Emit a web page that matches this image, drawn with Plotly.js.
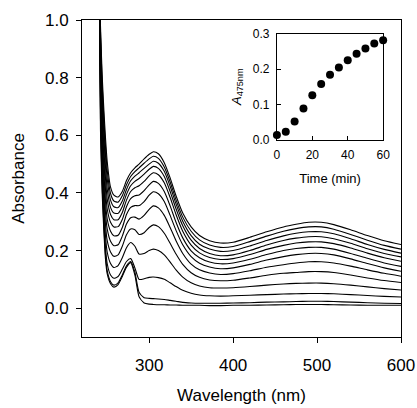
<!DOCTYPE html>
<html>
<head>
<meta charset="utf-8">
<script src="https://cdn.plot.ly/plotly-3.0.1.min.js"></script>
<style>html,body{margin:0;padding:0;background:#fff;}#chart{width:417px;height:408px;}</style>
</head>
<body>
<div id="chart"></div>
<script>
// Wavelength grid (nm) shared by all spectra
const wavelength = [240,242,244,246,248,250,254,258,263,268,273,278,283,288,294,300,305,311,318,325,332,340,350,360,372,385,400,420,440,460,475,490,505,520,540,560,580,600];

// Absorbance spectra recorded every 5 min (t = 0 ... 60 min)
const abs_t0  = [1.3,0.62,0.40,0.27,0.17,0.12,0.085,0.073,0.082,0.11,0.142,0.158,0.115,0.04,0.018,0.014,0.013,0.012,0.012,0.011,0.011,0.010,0.010,0.010,0.009,0.009,0.010,0.010,0.011,0.012,0.013,0.013,0.013,0.012,0.011,0.010,0.010,0.010];
const abs_t5  = [1.3,0.66,0.43,0.29,0.185,0.13,0.092,0.08,0.088,0.115,0.147,0.162,0.125,0.055,0.036,0.034,0.033,0.032,0.03,0.027,0.024,0.02,0.018,0.017,0.017,0.017,0.018,0.019,0.021,0.022,0.023,0.024,0.024,0.023,0.021,0.019,0.017,0.016];
const abs_t10 = [1.3,0.70,0.46,0.32,0.21,0.155,0.115,0.104,0.11,0.135,0.162,0.172,0.14,0.10,0.102,0.107,0.108,0.106,0.10,0.088,0.075,0.062,0.052,0.046,0.043,0.042,0.043,0.045,0.047,0.049,0.05,0.051,0.051,0.05,0.047,0.044,0.041,0.039];
const abs_t15 = [1.3,0.74,0.50,0.36,0.25,0.195,0.155,0.141,0.148,0.175,0.21,0.228,0.215,0.188,0.19,0.20,0.205,0.20,0.185,0.16,0.133,0.108,0.088,0.077,0.071,0.07,0.071,0.075,0.08,0.084,0.086,0.087,0.087,0.085,0.08,0.074,0.068,0.063];
const abs_t20 = [1.3,0.78,0.54,0.40,0.29,0.235,0.195,0.18,0.185,0.215,0.255,0.275,0.272,0.256,0.262,0.28,0.289,0.283,0.26,0.225,0.188,0.152,0.123,0.107,0.098,0.095,0.097,0.105,0.114,0.121,0.124,0.127,0.127,0.124,0.115,0.105,0.096,0.089];
const abs_t25 = [1.3,0.82,0.58,0.44,0.33,0.275,0.232,0.217,0.22,0.25,0.292,0.314,0.316,0.309,0.322,0.343,0.355,0.348,0.322,0.28,0.234,0.19,0.153,0.133,0.122,0.117,0.12,0.13,0.142,0.151,0.157,0.161,0.161,0.157,0.146,0.133,0.121,0.111];
const abs_t30 = [1.3,0.85,0.62,0.48,0.37,0.31,0.267,0.251,0.253,0.28,0.325,0.35,0.356,0.356,0.37,0.392,0.404,0.397,0.37,0.322,0.27,0.22,0.179,0.156,0.143,0.137,0.14,0.152,0.167,0.179,0.186,0.19,0.19,0.185,0.171,0.155,0.14,0.128];
const abs_t35 = [1.3,0.88,0.66,0.52,0.41,0.345,0.298,0.282,0.283,0.308,0.352,0.38,0.39,0.393,0.408,0.428,0.44,0.433,0.405,0.355,0.298,0.244,0.199,0.175,0.16,0.154,0.157,0.17,0.186,0.20,0.207,0.211,0.211,0.205,0.19,0.173,0.157,0.145];
const abs_t40 = [1.3,0.90,0.69,0.56,0.45,0.38,0.325,0.307,0.307,0.332,0.375,0.405,0.418,0.425,0.44,0.459,0.47,0.463,0.435,0.384,0.325,0.267,0.219,0.192,0.176,0.169,0.172,0.186,0.204,0.218,0.226,0.23,0.23,0.224,0.209,0.191,0.175,0.163];
const abs_t45 = [1.3,0.92,0.72,0.60,0.49,0.415,0.35,0.33,0.329,0.353,0.395,0.425,0.44,0.45,0.465,0.482,0.492,0.485,0.457,0.405,0.345,0.286,0.236,0.207,0.19,0.182,0.185,0.20,0.219,0.235,0.243,0.248,0.248,0.241,0.225,0.206,0.19,0.178];
const abs_t50 = [1.3,0.94,0.75,0.63,0.53,0.45,0.375,0.352,0.349,0.372,0.412,0.442,0.458,0.47,0.485,0.50,0.51,0.503,0.475,0.423,0.362,0.302,0.252,0.222,0.205,0.197,0.20,0.216,0.235,0.251,0.26,0.265,0.265,0.258,0.241,0.221,0.204,0.191];
const abs_t55 = [1.3,0.96,0.78,0.66,0.56,0.48,0.398,0.372,0.368,0.39,0.428,0.457,0.474,0.487,0.503,0.518,0.527,0.52,0.49,0.438,0.376,0.316,0.267,0.237,0.219,0.211,0.214,0.231,0.25,0.267,0.276,0.282,0.282,0.274,0.256,0.236,0.218,0.205];
const abs_t60 = [1.3,0.98,0.81,0.69,0.59,0.51,0.42,0.392,0.386,0.405,0.443,0.47,0.487,0.50,0.518,0.534,0.543,0.536,0.505,0.452,0.39,0.33,0.282,0.252,0.234,0.226,0.229,0.246,0.265,0.282,0.291,0.298,0.298,0.29,0.272,0.252,0.234,0.221];

// Inset: absorbance at 475 nm versus time
const time_min = [0,5,10,15,20,25,30,35,40,45,50,55,60];
const a475 = [0.013,0.022,0.051,0.088,0.126,0.158,0.184,0.205,0.225,0.244,0.259,0.273,0.282];

const spectra = [abs_t0,abs_t5,abs_t10,abs_t15,abs_t20,abs_t25,abs_t30,abs_t35,abs_t40,abs_t45,abs_t50,abs_t55,abs_t60];

const FONT = 'Arial, "Liberation Sans", Helvetica, sans-serif';
const traces = spectra.map((s, i) => ({
  type: 'scatter', mode: 'lines',
  x: wavelength, y: s,
  name: (i * 5) + ' min',
  line: {color: '#000', width: 1.1, shape: 'spline', smoothing: 0.6},
  xaxis: 'x', yaxis: 'y', hoverinfo: 'skip'
}));
traces.push({
  type: 'scatter', mode: 'markers',
  x: time_min, y: a475,
  name: 'A475nm',
  marker: {color: '#000', size: 8},
  cliponaxis: false,
  xaxis: 'x2', yaxis: 'y2'
});

const layout = {
  width: 417, height: 408,
  margin: {l: 82, r: 16, t: 20, b: 71},
  paper_bgcolor: '#fff', plot_bgcolor: '#fff',
  showlegend: false,
  font: {family: FONT, color: '#000', size: 17},
  xaxis: {
    range: [220, 600], tickvals: [300, 400, 500, 600],
    ticks: 'outside', ticklen: 5, tickcolor: '#000', tickwidth: 1,
    showline: true, linecolor: '#000', linewidth: 1, mirror: true,
    showgrid: false, zeroline: false,
    tickfont: {size: 17}, ticklabelstandoff: 8,
    title: {text: 'Wavelength (nm)', font: {size: 17}, standoff: 14}
  },
  yaxis: {
    range: [-0.1, 1.0], tickvals: [0, 0.2, 0.4, 0.6, 0.8, 1.0], tickformat: '.1f',
    ticks: 'outside', ticklen: 5, tickcolor: '#000', tickwidth: 1,
    showline: true, linecolor: '#000', linewidth: 1, mirror: true,
    showgrid: false, zeroline: false,
    tickfont: {size: 17}, ticklabelstandoff: 4,
    title: {text: 'Absorbance', font: {size: 17}, standoff: 16}
  },
  xaxis2: {
    domain: [0.611, 0.944], anchor: 'y2',
    range: [0, 60], tickvals: [0, 20, 40, 60],
    ticks: 'inside', ticklen: 4, tickcolor: '#000',
    showline: true, linecolor: '#000', linewidth: 1, mirror: true,
    showgrid: false, zeroline: false,
    tickfont: {size: 12}, ticklabelstandoff: 4,
    title: {text: 'Time (min)', font: {size: 13}, standoff: 12}
  },
  yaxis2: {
    domain: [0.623, 0.956], anchor: 'x2',
    range: [0, 0.3], tickvals: [0, 0.1, 0.2, 0.3], tickformat: '.1f',
    ticks: 'inside', ticklen: 4, tickcolor: '#000',
    showline: true, linecolor: '#000', linewidth: 1, mirror: true,
    showgrid: false, zeroline: false,
    tickfont: {size: 12}, ticklabelstandoff: 4,
    title: {text: '<i>A</i><sub>475nm</sub>', font: {size: 13}, standoff: 8}
  }
};

Plotly.newPlot('chart', traces, layout, {staticPlot: true, displayModeBar: false});
</script>
</body>
</html>
